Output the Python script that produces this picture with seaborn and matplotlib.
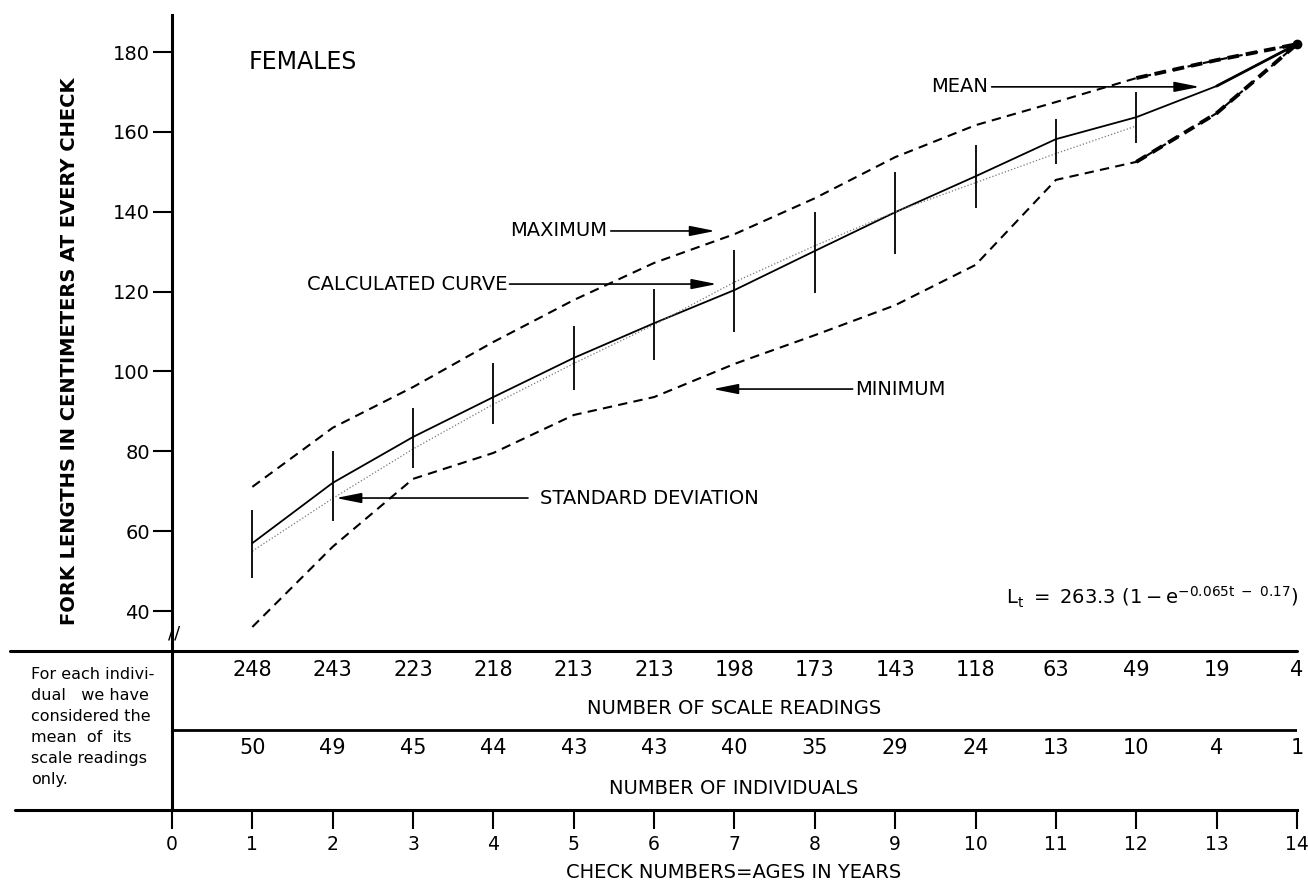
import numpy as np
import pandas as pd
import seaborn as sns
from matplotlib import pyplot as plt

sns.set_style("white")
plt.rcParams["font.family"] = ["DejaVu Sans"]
plt.rcParams.update({"text.color": "black", "axes.labelcolor": "black", "axes.edgecolor": "black",
                     "xtick.color": "black", "ytick.color": "black"})

# data
ages = list(range(1, 15))
mean_len = [57.0, 72.1, 83.6, 93.6, 103.4, 112.1, 120.4, 130.2, 139.9, 148.9, 158.2, 163.7, 171.5, 182.0]
max_len = [71.1, 85.9, 96.1, 107.4, 117.9, 127.2, 134.4, 143.4, 153.7, 161.7, 167.5, 173.5, 178.0, 182.0]
min_len = [36.0, 56.1, 73.1, 79.6, 89.1, 93.6, 101.9, 109.1, 116.6, 126.7, 148.0, 152.5, 164.7, 182.0]
calc_ages = list(range(1, 13))
calc_len = [55.0, 68.2, 80.6, 91.8, 102.0, 111.7, 122.4, 131.5, 140.0, 147.3, 154.6, 161.5]
sd_ages = list(range(1, 13))
sd_low = [48.3, 62.6, 75.8, 86.9, 95.4, 102.9, 109.9, 119.7, 129.4, 140.9, 152.0, 157.2]
sd_high = [65.3, 80.1, 90.9, 102.1, 111.4, 120.7, 130.4, 139.9, 150.0, 156.7, 163.2, 170.0]
scale_readings = [248, 243, 223, 218, 213, 213, 198, 173, 143, 118, 63, 49, 19, 4]
individuals = [50, 49, 45, 44, 43, 43, 40, 35, 29, 24, 13, 10, 4, 1]
yticks = [40, 60, 80, 100, 120, 140, 160, 180]
xticks = list(range(0, 15))

frame = pd.DataFrame({"age": ages, "mean": mean_len, "max": max_len, "min": min_len})

W, H = 1308, 885
fig = plt.figure(figsize=(W / 100, H / 100), dpi=100)
x0, x1 = 172, 1297
ax = fig.add_axes([x0 / W, 1 - 651 / H, (x1 - x0) / W, (651 - 15) / H])
tab = fig.add_axes([x0 / W, 1 - 810 / H, (x1 - x0) / W, (810 - 651) / H])
ax.patch.set_visible(False)
tab.patch.set_visible(False)

dash = (0, (4.5, 3))
sns.lineplot(data=frame, x="age", y="max", color="black", lw=1.5, linestyle=dash, ax=ax, clip_on=False)
sns.lineplot(data=frame, x="age", y="min", color="black", lw=1.5, linestyle=dash, ax=ax, clip_on=False)
sns.lineplot(data=frame, x="age", y="mean", color="black", lw=1.3, ax=ax, clip_on=False)
sns.lineplot(x=calc_ages, y=calc_len, color="#777777", lw=0.9, linestyle=":", ax=ax)
# heavier end segments as in the drawing
tail = frame[frame["age"] >= 12]
ax.plot(tail["age"], tail["max"], color="black", lw=2.8, linestyle=(0, (3, 1.8)), clip_on=False)
ax.plot(tail["age"], tail["min"], color="black", lw=2.8, linestyle=(0, (3, 1.8)), clip_on=False)
ax.plot(tail["age"][-2:], tail["mean"][-2:], color="black", lw=2.0, clip_on=False)
ax.plot(ages[-1:], mean_len[-1:], "o", color="black", ms=6, clip_on=False)
ax.vlines(sd_ages, sd_low, sd_high, color="black", lw=1.3)

ax.set_xlim(0, 14)
ax.set_ylim(29.98, 189.3)
ax.set_xticks([])
ax.set_yticks(yticks)
ax.set_yticklabels([str(v) for v in yticks], fontsize=14)
ax.tick_params(axis="y", direction="out", length=14, width=1.5, pad=2, left=True)
ax.set_xlabel("")
ax.set_ylabel("")
for s in ["top", "right", "bottom"]:
    ax.spines[s].set_visible(False)
ax.spines["left"].set_linewidth(2.2)
ax.plot([-(x0 - 10) / (x1 - x0), 1], [0, 0], transform=ax.transAxes, color="black", lw=2.2,
        clip_on=False, zorder=5)
ax.text(0.03, 34.3, "//", ha="center", va="center", fontsize=13, clip_on=False)

arrow = dict(arrowstyle="-|>,head_length=1.1,head_width=0.22", color="black", lw=1.2,
             mutation_scale=14, shrinkA=0, shrinkB=0)
fs = 14
ax.text(0.95, 177.5, "FEMALES", fontsize=17, ha="left", va="center")
ax.text(10.15, 171.3, "MEAN", fontsize=fs, ha="right", va="center")
ax.annotate("", xy=(12.79, 171.3), xytext=(10.2, 171.3), arrowprops=arrow)
ax.text(5.41, 135.2, "MAXIMUM", fontsize=fs, ha="right", va="center")
ax.annotate("", xy=(6.76, 135.2), xytext=(5.46, 135.2), arrowprops=arrow)
ax.text(4.17, 121.9, "CALCULATED CURVE", fontsize=fs, ha="right", va="center")
ax.annotate("", xy=(6.78, 121.9), xytext=(4.2, 121.9), arrowprops=arrow)
ax.text(8.5, 95.6, "MINIMUM", fontsize=fs, ha="left", va="center")
ax.annotate("", xy=(6.73, 95.6), xytext=(8.47, 95.6), arrowprops=arrow)
ax.text(4.58, 68.3, "STANDARD DEVIATION", fontsize=fs, ha="left", va="center")
ax.annotate("", xy=(2.04, 68.3), xytext=(4.43, 68.3), arrowprops=arrow)
ax.text(14.01, 43.3, r"$\mathregular{L_t\ =\ 263.3\ (1-e^{-0.065t\ -\ 0.17})}$",
        fontsize=14, ha="right", va="center")

# table of counts below the plot
tab.set_xlim(0, 14)
tab.set_ylim(0, 1)
tab.set_yticks([])
tab.set_xticks(xticks)
tab.set_xticklabels([str(v) for v in xticks], fontsize=13.5)
tab.tick_params(axis="x", direction="out", length=14, width=1.5, pad=4, bottom=True)
for s in ["top", "right"]:
    tab.spines[s].set_visible(False)
tab.spines["left"].set_linewidth(2.2)
tab.spines["bottom"].set_linewidth(2.2)
tab.plot([-(x0 - 15) / (x1 - x0), 0], [0, 0], transform=tab.transAxes, color="black", lw=2.2, clip_on=False)
tab.axhline(0.503, color="black", lw=2.0)
for a, n in zip(ages, scale_readings):
    tab.text(a, 0.88, str(n), fontsize=15, ha="center", va="center")
for a, n in zip(ages, individuals):
    tab.text(a, 0.39, str(n), fontsize=15, ha="center", va="center")
tab.text(6.99, 0.64, "NUMBER OF SCALE READINGS", fontsize=14, ha="center", va="center")
tab.text(6.99, 0.138, "NUMBER OF INDIVIDUALS", fontsize=14, ha="center", va="center")

fig.text(31 / W, 1 - 667 / H,
         "For each indivi-\ndual   we have\nconsidered the\nmean  of  its\nscale readings\nonly.",
         fontsize=11.5, ha="left", va="top", linespacing=1.5)
fig.text(734 / W, 1 - 873 / H, "CHECK NUMBERS=AGES IN YEARS", fontsize=14, ha="center", va="center")
fig.text(70 / W, 1 - 351 / H, "FORK LENGTHS IN CENTIMETERS AT EVERY CHECK", fontsize=14,
         fontweight="bold", rotation=90, ha="center", va="center")

plt.savefig("out.png", dpi=100)
